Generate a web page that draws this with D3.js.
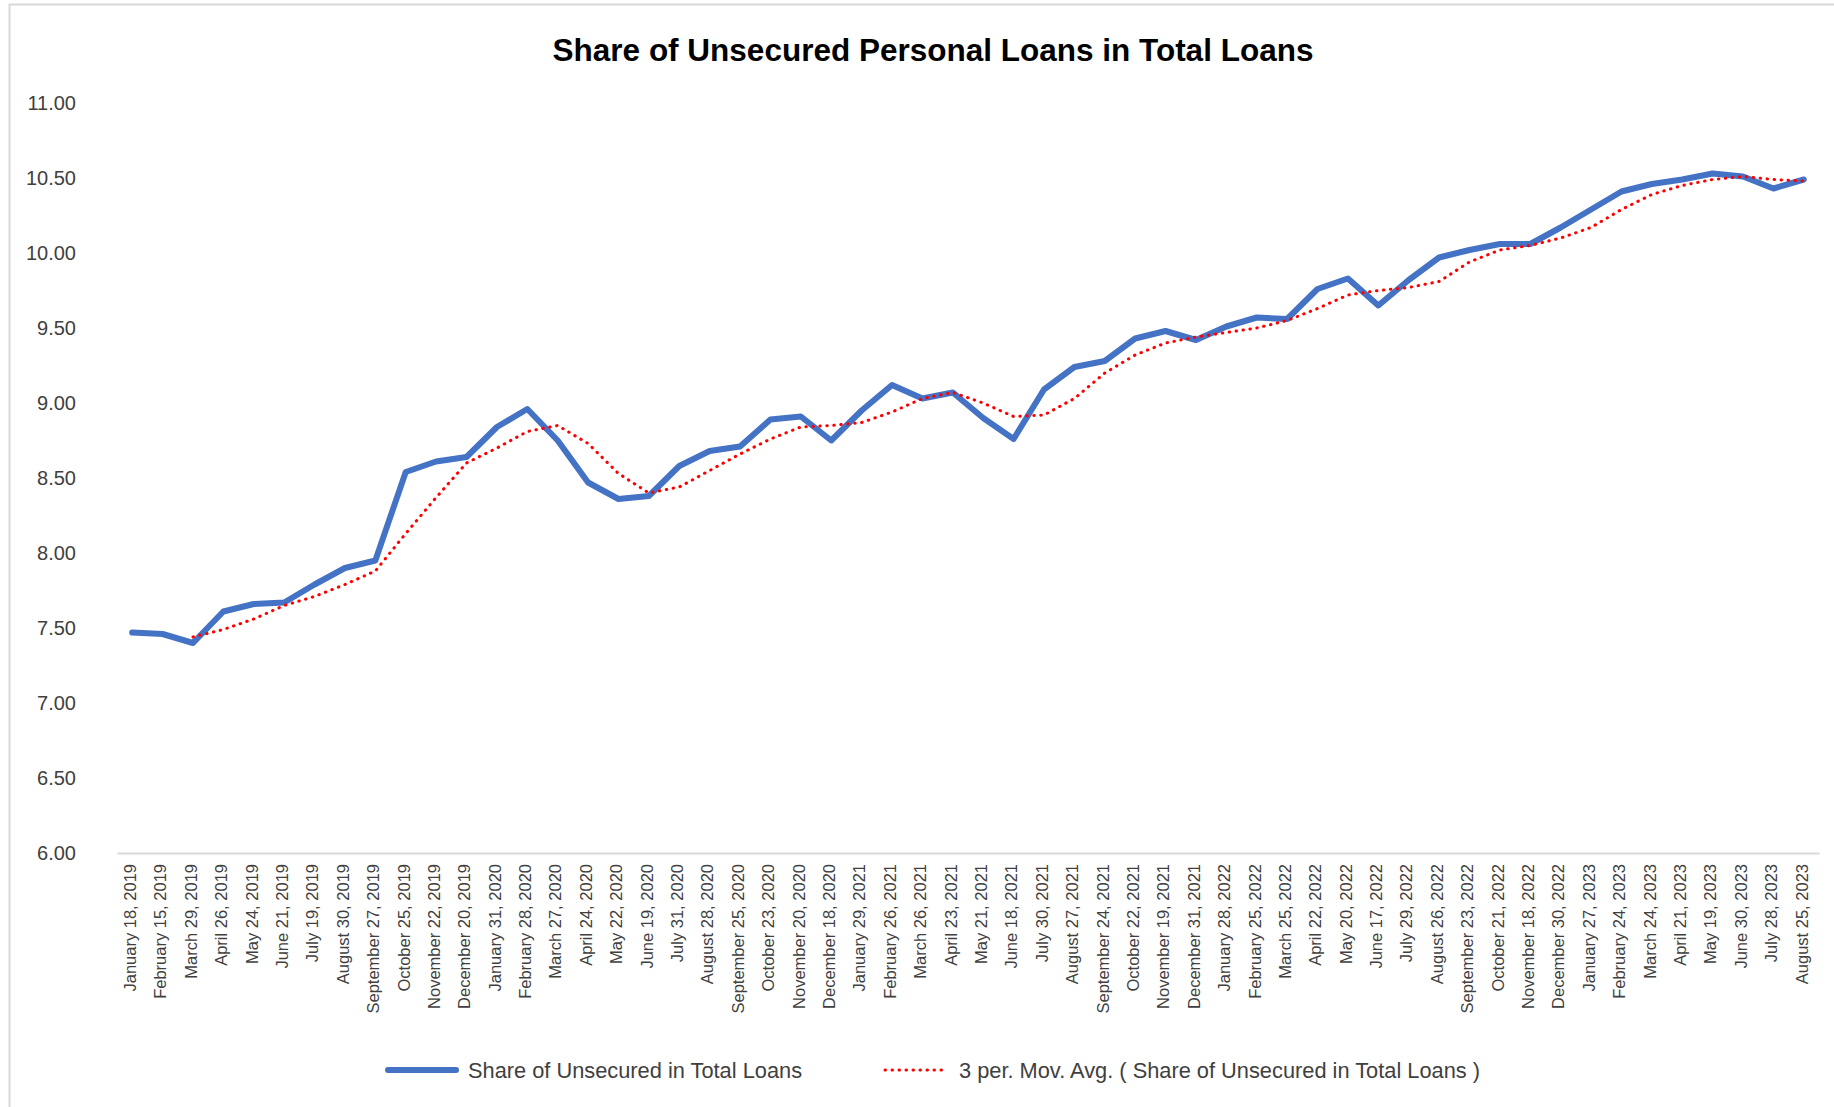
<!DOCTYPE html>
<html>
<head>
<meta charset="utf-8">
<script src="https://cdn.jsdelivr.net/npm/d3@7"></script>
<style>
  body { margin: 0; background: #fff; }
  svg { display: block; }
</style>
</head>
<body>
<div id="chart"></div>
<script>
const dates = [
  "January 18, 2019", "February 15, 2019", "March 29, 2019", "April 26, 2019", "May 24, 2019", "June 21, 2019",
  "July 19, 2019", "August 30, 2019", "September 27, 2019", "October 25, 2019", "November 22, 2019", "December 20, 2019",
  "January 31, 2020", "February 28, 2020", "March 27, 2020", "April 24, 2020", "May 22, 2020", "June 19, 2020",
  "July 31, 2020", "August 28, 2020", "September 25, 2020", "October 23, 2020", "November 20, 2020", "December 18, 2020",
  "January 29, 2021", "February 26, 2021", "March 26, 2021", "April 23, 2021", "May 21, 2021", "June 18, 2021",
  "July 30, 2021", "August 27, 2021", "September 24, 2021", "October 22, 2021", "November 19, 2021", "December 31, 2021",
  "January 28, 2022", "February 25, 2022", "March 25, 2022", "April 22, 2022", "May 20, 2022", "June 17, 2022",
  "July 29, 2022", "August 26, 2022", "September 23, 2022", "October 21, 2022", "November 18, 2022", "December 30, 2022",
  "January 27, 2023", "February 24, 2023", "March 24, 2023", "April 21, 2023", "May 19, 2023", "June 30, 2023",
  "July 28, 2023", "August 25, 2023"
];

const shareValues = [
  7.47, 7.46, 7.40, 7.61, 7.66, 7.67, 7.79, 7.90, 7.95, 8.54, 8.61, 8.64,
  8.84, 8.96, 8.75, 8.47, 8.36, 8.38, 8.58, 8.68, 8.71, 8.89, 8.91, 8.75,
  8.95, 9.12, 9.03, 9.07, 8.90, 8.76, 9.09, 9.24, 9.28, 9.43, 9.48, 9.42,
  9.51, 9.57, 9.56, 9.76, 9.83, 9.65, 9.82, 9.97, 10.02, 10.06, 10.06, 10.17,
  10.29, 10.41, 10.46, 10.49, 10.53, 10.51, 10.43, 10.49
];

// moving average trendline (no value for the first two dates)
const movAvgValues = [
  null, null, 7.44, 7.49, 7.56, 7.65, 7.71, 7.79, 7.88, 8.13, 8.37, 8.60,
  8.70, 8.81, 8.85, 8.73, 8.53, 8.40, 8.44, 8.55, 8.66, 8.76, 8.84, 8.85,
  8.87, 8.94, 9.03, 9.07, 9.00, 8.91, 8.92, 9.03, 9.20, 9.32, 9.40, 9.44,
  9.47, 9.50, 9.55, 9.63, 9.72, 9.75, 9.77, 9.81, 9.94, 10.02, 10.05, 10.10,
  10.17, 10.29, 10.39, 10.45, 10.49, 10.51, 10.49, 10.48
];

const yTicks = [6, 6.5, 7, 7.5, 8, 8.5, 9, 9.5, 10, 10.5, 11];

const title = "Share of Unsecured Personal Loans in Total Loans";
const seriesName = "Share of Unsecured in Total Loans";
const trendName = "3 per. Mov. Avg. ( Share of Unsecured in Total Loans )";

const W = 1834, H = 1107;
const plot = { left: 117, right: 1819, top: 103, bottom: 853 };

const svg = d3.select("#chart").append("svg")
  .attr("width", W)
  .attr("height", H)
  .style("font-family", "'Liberation Sans', Arial, sans-serif");

// chart area frame (only top/left edges are visible in the crop)
svg.append("rect")
  .attr("x", 9.5).attr("y", 4.5)
  .attr("width", W + 20).attr("height", H + 20)
  .attr("fill", "none")
  .attr("stroke", "#d9d9d9")
  .attr("stroke-width", 2);

const x = d3.scaleBand()
  .domain(dates)
  .range([plot.left, plot.right])
  .padding(0);

const y = d3.scaleLinear()
  .domain([6, 11])
  .range([plot.bottom, plot.top]);

const cx = d => x(d) + x.bandwidth() / 2;

svg.append("text")
  .attr("x", 933)
  .attr("y", 61)
  .attr("text-anchor", "middle")
  .style("font-weight", "bold")
  .style("font-size", "31.5px")
  .attr("fill", "#000")
  .text(title);

// y axis: labels only
const yAxis = svg.append("g")
  .attr("transform", "translate(76,0)")
  .call(d3.axisLeft(y).tickValues(yTicks).tickFormat(d3.format(".2f")).tickSize(0).tickPadding(0));
yAxis.select(".domain").remove();
yAxis.selectAll("text")
  .style("font-size", "20px")
  .attr("fill", "#404040");

// x axis
const xAxis = svg.append("g")
  .attr("transform", `translate(0,${plot.bottom})`)
  .call(d3.axisBottom(x).tickSize(0));
xAxis.select(".domain")
  .attr("stroke", "#d9d9d9")
  .attr("stroke-width", 2);
xAxis.selectAll("text")
  .attr("transform", "rotate(-90)")
  .attr("text-anchor", "end")
  .attr("x", -11)
  .attr("y", -2)
  .attr("dy", "0.35em")
  .style("font-size", "16.5px")
  .attr("fill", "#404040");

const line = d3.line()
  .defined(d => d.v !== null)
  .x(d => cx(d.date))
  .y(d => y(d.v));

const shareData = dates.map((date, i) => ({ date, v: shareValues[i] }));
const avgData = dates.map((date, i) => ({ date, v: movAvgValues[i] }));

svg.append("path")
  .datum(shareData)
  .attr("fill", "none")
  .attr("stroke", "#4472c4")
  .attr("stroke-width", 6)
  .attr("stroke-linejoin", "round")
  .attr("stroke-linecap", "round")
  .attr("d", line);

svg.append("path")
  .datum(avgData)
  .attr("fill", "none")
  .attr("stroke", "#ff0000")
  .attr("stroke-width", 3)
  .attr("stroke-linecap", "round")
  .attr("stroke-dasharray", "0.5 6.5")
  .attr("d", line);

// legend
const legendY = 1070;
const legend = svg.append("g");
legend.append("line")
  .attr("x1", 388).attr("x2", 456)
  .attr("y1", legendY).attr("y2", legendY)
  .attr("stroke", "#4472c4")
  .attr("stroke-width", 6)
  .attr("stroke-linecap", "round");
legend.append("text")
  .attr("x", 468).attr("y", legendY)
  .attr("dy", "0.35em")
  .style("font-size", "21.8px")
  .attr("fill", "#404040")
  .text(seriesName);
legend.append("line")
  .attr("x1", 885).attr("x2", 947)
  .attr("y1", legendY).attr("y2", legendY)
  .attr("stroke", "#ff0000")
  .attr("stroke-width", 3)
  .attr("stroke-linecap", "round")
  .attr("stroke-dasharray", "0.5 6.5");
legend.append("text")
  .attr("x", 959).attr("y", legendY)
  .attr("dy", "0.35em")
  .style("font-size", "21.8px")
  .attr("fill", "#404040")
  .text(trendName);
</script>
</body>
</html>
